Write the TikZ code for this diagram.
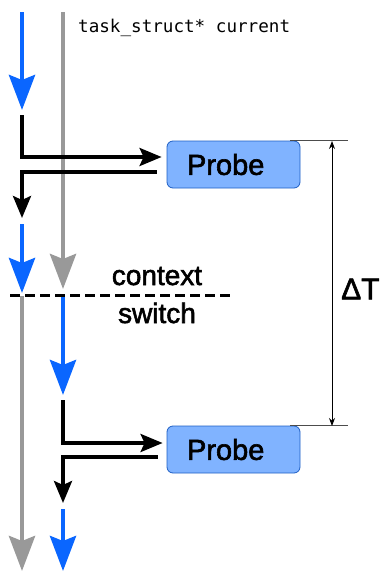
\documentclass[tikz,border=0pt]{standalone}
\usepackage{fontspec}
\setmainfont{Liberation Sans}
\setmonofont{DejaVu Sans Mono}
\newfontfamily\labelfont{Liberation Sans}[AutoFakeBold=2]
\usepackage{tikz}
\usetikzlibrary{arrows.meta}

\definecolor{flowblue}{HTML}{0A66FF}
\definecolor{flowgray}{HTML}{999999}
\definecolor{probefill}{HTML}{80B3FF}
\definecolor{probeline}{HTML}{1F5FC4}

\begin{document}
\begin{tikzpicture}[x=1pt, y=-1pt]
    \tikzstyle{bigtip} = [-{Stealth[length=35pt, width=26pt, inset=5pt]}]
    \tikzstyle{bluerun} = [flowblue, line width=4.5pt, bigtip]
    \tikzstyle{grayrun} = [flowgray, line width=4.5pt, bigtip]
    \tikzstyle{probecall} = [black, line width=3.5pt, -{Stealth[length=22pt, width=18pt, inset=4pt]}]
    \tikzstyle{probebox} = [rectangle, rounded corners=6pt, draw=probeline, line width=0.8pt, fill=probefill,
                            minimum width=133pt, minimum height=47pt, inner xsep=20pt, text width=93pt,
                            align=left, font=\labelfont\bfseries\fontsize{29}{30}\selectfont]
    \tikzstyle{switchlabel} = [font=\labelfont\bfseries\fontsize{28}{30}\selectfont, anchor=base, inner sep=0pt]

    \useasboundingbox (0,0) rectangle (380,571);

    % Probes
    \node[probebox] (probe1) at (233.5,164.5) {Probe};
    \node[probebox] (probe2) at (233.5,449.5) {Probe};

    % Thread label
    \node[anchor=base west, inner sep=0pt, font=\fontsize{17.6}{18}\selectfont\ttfamily] (curr) at (78,32) {task\_struct* current};

    % Run segments
    \coordinate (b1s) at (22,12);   \coordinate (b1e) at (22,110);
    \coordinate (g1s) at (63,12);   \coordinate (g1e) at (63,289);
    \coordinate (b2s) at (22,224);  \coordinate (b2e) at (22,293);
    \coordinate (g2s) at (22,296);  \coordinate (g2e) at (22,571);
    \coordinate (b3s) at (63,297);  \coordinate (b3e) at (63,395);
    \coordinate (b4s) at (63,509);  \coordinate (b4e) at (63,571);

    \draw[bluerun] (b1s) -- (b1e);
    \draw[grayrun] (g1s) -- (g1e);
    \draw[bluerun] (b2s) -- (b2e);
    \draw[grayrun] (g2s) -- (g2e);
    \draw[bluerun] (b3s) -- (b3e);
    \draw[bluerun] (b4s) -- (b4e);

    % Calls into the probes
    \coordinate (c1s) at (22,115);
    \coordinate (c1e) at (22,218);
    \coordinate (c2s) at (63,400);
    \coordinate (c2e) at (63,503);
    \draw[probecall, shorten >=5pt] (c1s) |- ([yshift=7.5pt]probe1.west);
    \draw[probecall] ([shift={(-10pt,-7.5pt)}]probe1.west) -| (c1e);
    \draw[probecall, shorten >=4pt] (c2s) |- ([yshift=6.5pt]probe2.west);
    \draw[probecall] ([shift={(-9pt,-7.5pt)}]probe2.west) -| (c2e);

    % Context switch
    \coordinate (cs1) at (10,295);
    \coordinate (cs2) at (232,295);
    \draw[black, line width=3pt, dash pattern=on 10pt off 5pt] (cs1) -- (cs2);
    \node[switchlabel] (ctx) at (157,285) {context};
    \node[switchlabel] (sw) at (157,323) {switch};

    % Delta T
    \coordinate (dtop) at (332,141);
    \coordinate (dbot) at (332,426);
    \draw[black!70, line width=0.9pt] ([xshift=-10pt]probe1.north east) -- ++(58,0);
    \draw[black!70, line width=0.9pt] ([xshift=-10pt]probe2.north east) -- ++(58,0);
    \draw[black, line width=0.9pt, {Stealth[length=8pt, width=6pt]}-{Stealth[length=8pt, width=6pt]}] (dtop) -- (dbot);
    \node[anchor=west, inner sep=0pt, font=\labelfont\bfseries\fontsize{30}{31}\selectfont] (dt) at (341,289) {ΔT};
\end{tikzpicture}
\end{document}
